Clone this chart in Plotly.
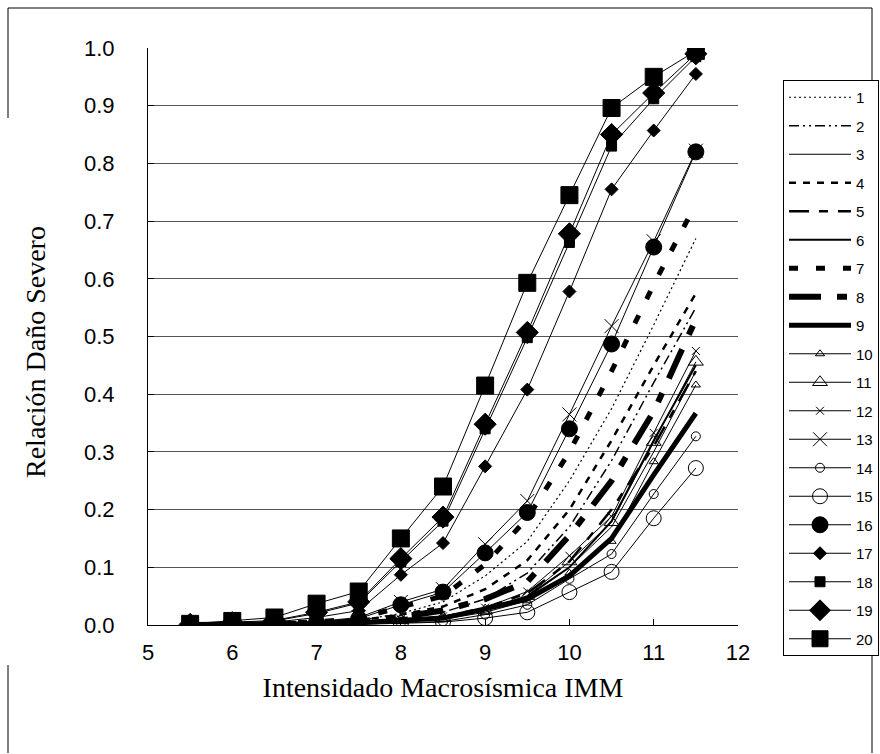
import plotly.graph_objects as go

intensity = [5.5, 6, 6.5, 7, 7.5, 8, 8.5, 9, 9.5, 10, 10.5, 11, 11.5]

s1 = [0.000, 0.001, 0.002, 0.004, 0.008, 0.020, 0.040, 0.085, 0.145, 0.250, 0.375, 0.520, 0.670]
s2 = [0.000, 0.000, 0.001, 0.002, 0.005, 0.012, 0.022, 0.045, 0.090, 0.170, 0.285, 0.420, 0.550]
s3 = [0.000, 0.000, 0.001, 0.002, 0.004, 0.008, 0.012, 0.025, 0.048, 0.100, 0.170, 0.300, 0.440]
s4 = [0.000, 0.001, 0.002, 0.004, 0.008, 0.018, 0.032, 0.062, 0.112, 0.200, 0.320, 0.450, 0.575]
s5 = [0.000, 0.000, 0.001, 0.002, 0.004, 0.009, 0.014, 0.030, 0.055, 0.110, 0.200, 0.310, 0.440]
s6 = [0.000, 0.000, 0.001, 0.002, 0.004, 0.008, 0.012, 0.026, 0.050, 0.100, 0.180, 0.320, 0.450]
s7 = [0.000, 0.001, 0.002, 0.005, 0.012, 0.030, 0.050, 0.105, 0.185, 0.300, 0.440, 0.590, 0.730]
s8 = [0.000, 0.000, 0.001, 0.003, 0.006, 0.014, 0.025, 0.045, 0.075, 0.155, 0.250, 0.370, 0.530]
s9 = [0.000, 0.000, 0.001, 0.002, 0.004, 0.008, 0.012, 0.028, 0.045, 0.085, 0.150, 0.260, 0.367]
s10 = [0.000, 0.000, 0.001, 0.002, 0.004, 0.007, 0.010, 0.022, 0.042, 0.090, 0.145, 0.283, 0.416]
s11 = [0.000, 0.000, 0.001, 0.002, 0.004, 0.008, 0.012, 0.025, 0.050, 0.110, 0.178, 0.317, 0.456]
s12 = [0.000, 0.000, 0.001, 0.002, 0.005, 0.010, 0.015, 0.030, 0.058, 0.120, 0.188, 0.333, 0.475]
s13 = [0.000, 0.001, 0.002, 0.006, 0.013, 0.040, 0.062, 0.140, 0.215, 0.365, 0.518, 0.665, 0.822]
s14 = [0.000, 0.000, 0.000, 0.001, 0.002, 0.004, 0.006, 0.018, 0.035, 0.080, 0.123, 0.227, 0.327]
s15 = [0.000, 0.000, 0.000, 0.001, 0.001, 0.003, 0.005, 0.012, 0.022, 0.057, 0.092, 0.185, 0.272]
s16 = [0.000, 0.001, 0.002, 0.005, 0.011, 0.035, 0.057, 0.125, 0.195, 0.340, 0.487, 0.655, 0.820]
s17 = [0.001, 0.002, 0.005, 0.013, 0.025, 0.087, 0.142, 0.275, 0.408, 0.578, 0.755, 0.857, 0.955]
s18 = [0.001, 0.003, 0.007, 0.020, 0.038, 0.110, 0.180, 0.340, 0.498, 0.663, 0.830, 0.912, 0.985]
s19 = [0.001, 0.004, 0.008, 0.022, 0.040, 0.115, 0.187, 0.348, 0.507, 0.678, 0.850, 0.922, 0.990]
s20 = [0.002, 0.007, 0.013, 0.037, 0.058, 0.150, 0.240, 0.415, 0.593, 0.745, 0.896, 0.950, 0.995]

series = [s1, s2, s3, s4, s5, s6, s7, s8, s9, s10,
          s11, s12, s13, s14, s15, s16, s17, s18, s19, s20]
names = [str(i) for i in range(1, 21)]

# style per series: (line width, dash, marker symbol, marker size)
styles = [
    (1.2, "2px,3px", None, 0),
    (1.5, "10px,4px,2px,4px,2px,4px", None, 0),
    (1, "solid", None, 0),
    (2.5, "7px,7px", None, 0),
    (2.5, "20px,10px,9px,10px", None, 0),
    (2, "solid", None, 0),
    (5, "9px,18px", None, 0),
    (6, "32px,16px,10px,16px", None, 0),
    (5, "solid", None, 0),
    (1, "solid", "triangle-up-open", 8),
    (1, "solid", "triangle-up-open", 13),
    (1, "solid", "x-thin-open", 8),
    (1, "solid", "x-thin-open", 14),
    (1, "solid", "circle-open", 9),
    (1, "solid", "circle-open", 15),
    (1, "solid", "circle", 16),
    (1, "solid", "diamond", 10),
    (1, "solid", "square", 10),
    (1, "solid", "diamond", 17),
    (1, "solid", "square", 17),
]

fig = go.Figure()
for i, (vals, nm, st) in enumerate(zip(series, names, styles)):
    w, dash, sym, size = st
    tr = dict(x=intensity, y=vals, name=nm, legendgroup=nm,
              line=dict(color="black", width=w, dash=dash))
    if sym:
        tr["mode"] = "lines+markers"
        tr["marker"] = dict(symbol=sym, size=size, color="black",
                            line=dict(color="black", width=1))
    else:
        tr["mode"] = "lines"
    fig.add_trace(go.Scatter(**tr))

# chart-area border pieces (paper coordinates)
def px(x):
    return (x - 148) / 590.0

def py(y):
    return (625 - y) / 577.0

border = [
    (8, 8, 872, 8),
    (872, 8, 872, 753),
    (8, 8, 8, 118),
    (8, 665, 8, 753),
]
shapes = [dict(type="line", xref="paper", yref="paper",
               x0=px(a), y0=py(b), x1=px(c), y1=py(d),
               line=dict(color="black", width=1)) for a, b, c, d in border]

fig.update_layout(
    width=880, height=754,
    margin=dict(l=148, r=142, t=48, b=129),
    paper_bgcolor="white", plot_bgcolor="white",
    showlegend=True,
    shapes=shapes,
    font=dict(family="Liberation Sans, Arial", color="black"),
    legend=dict(xref="container", yref="container",
                x=783 / 880, y=1 - 80 / 754, xanchor="left", yanchor="top",
                bordercolor="black", borderwidth=1, bgcolor="white",
                font=dict(size=15, family="Liberation Sans, Arial"),
                itemwidth=62, tracegroupgap=6, traceorder="grouped"),
    annotations=[dict(text="Relación Daño Severo", xref="paper", yref="paper",
                      x=px(35), y=py(352), xanchor="center", yanchor="middle",
                      textangle=-90, showarrow=False,
                      font=dict(size=28, family="Liberation Serif, Times New Roman"))],
    xaxis=dict(range=[5, 12], tickmode="linear", tick0=5, dtick=1,
               showgrid=False, zeroline=False, showline=True,
               linecolor="black", linewidth=1,
               ticks="inside", ticklen=6, tickcolor="black",
               ticklabelstandoff=8,
               tickfont=dict(size=22, family="Liberation Sans, Arial"),
               title=dict(text="Intensidado Macrosísmica IMM",
                          font=dict(size=28, family="Liberation Serif, Times New Roman"),
                          standoff=12)),
    yaxis=dict(range=[0, 1.0], tickmode="linear", tick0=0, dtick=0.1,
               tickformat=".1f",
               showgrid=True, gridcolor="#555555", gridwidth=1,
               zeroline=False, showline=True,
               linecolor="black", linewidth=1,
               ticks="inside", ticklen=6, tickcolor="black",
               ticklabelstandoff=28,
               tickfont=dict(size=22, family="Liberation Sans, Arial")),
)

try:
    fig.update_layout(legend_maxheight=640)
except Exception:
    pass

fig.write_html("out.html")
